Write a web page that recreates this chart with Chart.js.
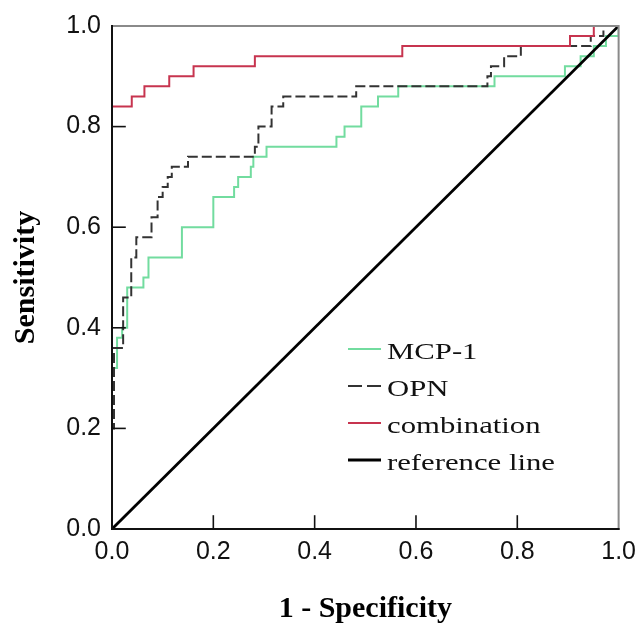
<!DOCTYPE html>
<html>
<head>
<meta charset="utf-8">
<title>ROC curves</title>
<script src="https://cdn.jsdelivr.net/npm/chart.js@4.4.1/dist/chart.umd.min.js"></script>
<style>
  html, body { margin: 0; padding: 0; background: #fff; }
  #wrap { position: relative; width: 644px; height: 627px; }
  #roc { position: absolute; left: 0; top: 0; }
  #legend {
    position: absolute; left: 348px; top: 333px;
    font-family: 'Liberation Serif', 'Times New Roman', serif;
    font-size: 24px; color: #111;
  }
  .row { display: flex; align-items: center; height: 37px; white-space: nowrap; }
  .row svg { flex: none; }
  .row span { display: inline-block; margin-left: 6px; transform: scaleX(1.28); transform-origin: left center; }
</style>
</head>
<body>
<div id="wrap">
  <canvas id="roc" width="644" height="627"></canvas>
  <div id="legend"></div>
</div>
<script>
// ROC data: x = 1 - specificity, y = sensitivity
var mcpFpr = [0, 0, 0.010, 0.020, 0.030, 0.062, 0.072, 0.138, 0.200, 0.241, 0.249, 0.274, 0.279, 0.305, 0.443, 0.459, 0.492, 0.525, 0.565, 0.755, 0.894, 0.925, 0.951, 0.975, 1.0];
var mcpTpr = [0, 0.32, 0.38, 0.40, 0.48, 0.50, 0.54, 0.60, 0.66, 0.68, 0.70, 0.72, 0.74, 0.76, 0.78, 0.80, 0.84, 0.86, 0.88, 0.90, 0.92, 0.94, 0.96, 0.98, 1.0];

var opnFpr = [0, 0, 0.004, 0.022, 0.038, 0.048, 0.078, 0.090, 0.100, 0.110, 0.118, 0.150, 0.282, 0.289, 0.315, 0.338, 0.482, 0.741, 0.748, 0.774, 0.807, 0.945, 0.970, 1.0];
var opnTpr = [0, 0.20, 0.36, 0.46, 0.54, 0.58, 0.62, 0.66, 0.68, 0.70, 0.72, 0.74, 0.76, 0.80, 0.84, 0.86, 0.88, 0.90, 0.92, 0.94, 0.96, 0.98, 1.0, 1.0];

var combFpr = [0, 0, 0.039, 0.064, 0.113, 0.161, 0.282, 0.573, 0.904, 0.951, 1.0];
var combTpr = [0, 0.84, 0.86, 0.88, 0.90, 0.92, 0.94, 0.96, 0.98, 1.0, 1.0];

var refFpr = [0, 1];
var refTpr = [0, 1];

var axisTicks = [0, 0.2, 0.4, 0.6, 0.8, 1.0];

var GREEN = '#72dc9f';
var RED = '#c7344f';
var BLACK = '#000000';

function toPoints(xs, ys) {
  return xs.map(function(x, i) { return { x: x, y: ys[i] }; });
}

// Frame + inward tick marks, drawn over the curves like the original
var framePlugin = {
  id: 'frame',
  afterDatasetsDraw: function(chart) {
    var ctx = chart.ctx;
    var a = chart.chartArea;
    var xs = chart.scales.x, ys = chart.scales.y;
    ctx.save();
    ctx.lineCap = 'square';
    ctx.strokeStyle = '#8a8a8a';
    ctx.lineWidth = 2;
    ctx.beginPath();
    ctx.moveTo(a.left, a.top); ctx.lineTo(a.right, a.top); ctx.lineTo(a.right, a.bottom);
    ctx.stroke();
    ctx.strokeStyle = '#111';
    ctx.beginPath();
    ctx.moveTo(a.left, a.top); ctx.lineTo(a.left, a.bottom); ctx.lineTo(a.right, a.bottom);
    ctx.stroke();
    ctx.lineWidth = 1.6;
    axisTicks.slice(1, -1).forEach(function(v) {
      var px = xs.getPixelForValue(v);
      ctx.beginPath(); ctx.moveTo(px, a.bottom); ctx.lineTo(px, a.bottom - 13); ctx.stroke();
      var py = ys.getPixelForValue(v);
      ctx.beginPath(); ctx.moveTo(a.left, py); ctx.lineTo(a.left + 13, py); ctx.stroke();
    });
    ctx.restore();
  }
};

var series = [
  { label: 'reference line', xs: refFpr, ys: refTpr, color: BLACK, width: 2.8, dash: [], stepped: false },
  { label: 'combination', xs: combFpr, ys: combTpr, color: RED, width: 2, dash: [], stepped: 'before' },
  { label: 'OPN', xs: opnFpr, ys: opnTpr, color: '#333', width: 2, dash: [10, 4], stepped: 'before' },
  { label: 'MCP-1', xs: mcpFpr, ys: mcpTpr, color: GREEN, width: 2, dash: [], stepped: 'before' }
];

var tickFont = { family: "'Liberation Sans', Arial, sans-serif", size: 25 };
var titleFont = { family: "'Liberation Serif', 'Times New Roman', serif", size: 30, weight: 'bold' };

new Chart(document.getElementById('roc').getContext('2d'), {
  type: 'line',
  data: {
    datasets: series.map(function(s) {
      return {
        label: s.label,
        data: toPoints(s.xs, s.ys),
        borderColor: s.color,
        borderWidth: s.width,
        borderDash: s.dash,
        stepped: s.stepped,
        pointRadius: 0,
        fill: false,
        tension: 0
      };
    })
  },
  options: {
    responsive: false,
    animation: false,
    layout: { padding: { top: 21, right: 24, left: 0, bottom: 0 } },
    plugins: {
      legend: { display: false },
      tooltip: { enabled: false }
    },
    scales: {
      x: {
        type: 'linear', min: 0, max: 1,
        afterBuildTicks: function(s) { s.ticks = axisTicks.map(function(v) { return { value: v }; }); },
        afterFit: function(s) { s.height = 98; },
        grid: { display: false, drawTicks: false },
        border: { display: false },
        ticks: { font: tickFont, color: '#111', padding: 8, maxRotation: 0,
                 callback: function(v) { return v.toFixed(1); } },
        title: { display: true, text: '1 - Specificity', font: titleFont, color: '#000',
                 padding: { top: 0, bottom: 0 } }
      },
      y: {
        type: 'linear', min: 0, max: 1,
        afterBuildTicks: function(s) { s.ticks = axisTicks.map(function(v) { return { value: v }; }); },
        afterFit: function(s) { s.width = 112; },
        grid: { display: false, drawTicks: false },
        border: { display: false },
        ticks: { font: tickFont, color: '#111', padding: 11,
                 callback: function(v) { return v.toFixed(1); } },
        title: { display: true, text: 'Sensitivity', font: titleFont, color: '#000',
                 padding: { top: 8, bottom: 0 } }
      }
    }
  },
  plugins: [framePlugin]
});

// Legend inside the plot, in the original order
var legendOrder = ['MCP-1', 'OPN', 'combination', 'reference line'];
var legend = document.getElementById('legend');
legendOrder.forEach(function(name) {
  var s = series.filter(function(d) { return d.label === name; })[0];
  var row = document.createElement('div');
  row.className = 'row';
  var dash = s.dash.length ? ' stroke-dasharray="14 5"' : '';
  row.innerHTML = '<svg width="33" height="37"><line x1="0" y1="16" x2="33" y2="16" stroke="' + s.color +
    '" stroke-width="' + s.width + '"' + dash + '/></svg>';
  var txt = document.createElement('span');
  txt.textContent = s.label;
  row.appendChild(txt);
  legend.appendChild(row);
});
</script>
</body>
</html>
